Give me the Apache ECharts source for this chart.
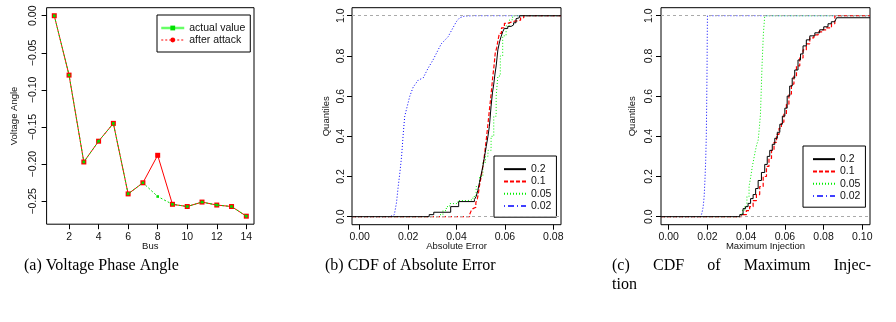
<!DOCTYPE html>
<html><head><meta charset="utf-8">
<script src="https://cdn.jsdelivr.net/npm/echarts@6.0.0/dist/echarts.min.js"></script>
<style>html,body{margin:0;padding:0;background:#fff}#c{width:896px;height:322px}</style>
</head><body><div id="c"></div>
<script>
// ---------- Panel (a): voltage phase angle ----------
const buses = [1,2,3,4,5,6,7,8,9,10,11,12,13,14];
const actualValue = [0.000,-0.080,-0.197,-0.169,-0.145,-0.240,-0.225,-0.2435,-0.254,-0.257,-0.251,-0.255,-0.257,-0.270];
const afterAttack = [0.000,-0.080,-0.197,-0.169,-0.145,-0.240,-0.225,-0.188,-0.254,-0.257,-0.251,-0.255,-0.257,-0.270];
const busTicks = [2,4,6,8,10,12,14];
const angleTicks = [0,-0.05,-0.10,-0.15,-0.20,-0.25];

// ---------- Panel (b): CDF of absolute error ----------
const quantileTicks = [0,0.2,0.4,0.6,0.8,1.0];
const absErrTicks = [0,0.02,0.04,0.06,0.08];
const errX_20 = [0.0287,0.0306,0.0376,0.0409,0.0474,0.0481,0.0488,0.0495,0.0502,0.0509,0.0516,0.0523,0.0530,0.0536,0.0543,0.0549,0.0554,0.0559,0.0564,0.0571,0.0578,0.0584,0.0591,0.0598,0.0612,0.0626,0.0636,0.0646,0.0653,0.0660];
const errQ_20 = [0.010,0.022,0.050,0.075,0.085,0.10,0.13,0.17,0.21,0.25,0.30,0.35,0.40,0.45,0.55,0.62,0.66,0.71,0.75,0.83,0.87,0.895,0.92,0.937,0.947,0.954,0.965,0.985,0.99,1.0];
const errX_10 = [0.0454,0.0461,0.0468,0.0474,0.0480,0.0486,0.0491,0.0495,0.0502,0.0509,0.0516,0.0523,0.0530,0.0536,0.0543,0.0550,0.0556,0.0560,0.0566,0.0572,0.0577,0.0586,0.0598,0.0612,0.0626,0.0640,0.0653,0.0665,0.0678];
const errQ_10 = [0.01,0.03,0.04,0.047,0.07,0.088,0.12,0.154,0.20,0.25,0.31,0.383,0.46,0.53,0.61,0.697,0.76,0.813,0.84,0.88,0.912,0.94,0.962,0.968,0.973,0.975,0.978,0.99,1.0];
const errX_05 = [0.0330,0.0344,0.0358,0.0372,0.0406,0.0447,0.0468,0.0481,0.0495,0.0509,0.0520,0.0530,0.0543,0.0554,0.0564,0.0571,0.0581,0.0591,0.0605,0.0619,0.0632];
const errQ_05 = [0.01,0.03,0.05,0.065,0.08,0.085,0.10,0.15,0.20,0.27,0.30,0.33,0.40,0.50,0.60,0.70,0.80,0.90,0.95,0.98,1.0];
const errX_02 = [0.0125,0.0143,0.0152,0.0159,0.0166,0.0173,0.0180,0.0186,0.0207,0.0221,0.0242,0.0262,0.0283,0.0303,0.0324,0.0337,0.0365,0.0399,0.0413,0.0433,0.0468];
const errQ_02 = [0.0,0.01,0.07,0.15,0.22,0.30,0.415,0.50,0.60,0.645,0.68,0.69,0.74,0.78,0.83,0.86,0.895,0.97,0.99,0.998,1.0];

// ---------- Panel (c): CDF of maximum injection ----------
const maxInjTicks = [0,0.02,0.04,0.06,0.08,0.10];
const injX_20 = [0.0367,0.0384,0.0397,0.0410,0.0423,0.0436,0.0449,0.0462,0.0479,0.0496,0.0509,0.0522,0.0535,0.0548,0.0561,0.0574,0.0587,0.0600,0.0612,0.0625,0.0638,0.0651,0.0668,0.0681,0.0694,0.0711,0.0729,0.0755,0.0780,0.0801,0.0823,0.0840,0.0858,0.0867];
const injQ_20 = [0.01,0.04,0.05,0.066,0.09,0.11,0.14,0.18,0.22,0.26,0.30,0.33,0.36,0.39,0.42,0.46,0.50,0.54,0.60,0.65,0.69,0.73,0.78,0.81,0.85,0.88,0.90,0.915,0.93,0.945,0.96,0.97,0.977,0.99];
const injX_10 = [0.0376,0.0401,0.0418,0.0436,0.0453,0.0470,0.0488,0.0505,0.0518,0.0531,0.0544,0.0557,0.0570,0.0582,0.0595,0.0608,0.0621,0.0634,0.0647,0.0660,0.0677,0.0694,0.0711,0.0729,0.0750,0.0772,0.0793,0.0815,0.0841,0.0858];
const injQ_10 = [0.01,0.03,0.05,0.08,0.11,0.15,0.20,0.25,0.29,0.33,0.37,0.41,0.44,0.47,0.51,0.56,0.61,0.66,0.70,0.75,0.79,0.83,0.86,0.89,0.905,0.92,0.93,0.94,0.96,1.0];
const injX_05 = [0.0367,0.0380,0.0393,0.0404,0.0415,0.0424,0.0432,0.0440,0.0448,0.0455,0.0462,0.0468,0.0474,0.0478,0.0482,0.0486,0.0489,0.0493,0.0496];
const injQ_05 = [0.01,0.03,0.05,0.10,0.15,0.20,0.25,0.29,0.33,0.36,0.38,0.44,0.51,0.63,0.75,0.84,0.91,0.96,1.0];
const injX_02 = [0.0165,0.0172,0.0178,0.0183,0.0187,0.0191,0.0194,0.0196,0.0198,0.0199,0.0200];
const injQ_02 = [0.0,0.02,0.05,0.10,0.18,0.28,0.40,0.55,0.75,0.90,1.0];

const GAP = '\u00a0\u00a0\u00a0\u00a0\u00a0\u2009';
const captions = ['(a) Voltage Phase Angle','(b) CDF of Absolute Error',
  '(c)'+GAP+'CDF'+GAP+'of'+GAP+'Maximum'+GAP+'Injec-\ntion'];

// ---------- helpers ----------
function rlim(lo, hi){ const d=(hi-lo)*0.04; return [lo-d, hi+d]; }
const xlimA = rlim(1,14), ylimA = rlim(-0.27,0);
const xlimB = rlim(0,0.08), xlimC = rlim(0,0.10), ylimQ = rlim(0,1);
const fmt = d => v => (v < -1e-12 ? '\u2212' : '') + Math.abs(v).toFixed(d);
const SANS = 'Liberation Sans';
const tickFont = {fontFamily:SANS, fontSize:10.5, color:'#111'};
const nameFont = {fontFamily:SANS, fontSize:9.5, color:'#111'};

function xAxis(gi, lim, ticks, dec, name){
  return {type:'value', gridIndex:gi, min:lim[0], max:lim[1], name:name, nameLocation:'middle', nameGap:17,
    nameMoveOverlap:false,
    nameTextStyle:nameFont, axisLine:{show:false, onZero:false}, splitLine:{show:false},
    axisTick:{show:true, inside:false, length:5, customValues:ticks, lineStyle:{color:'#000'}},
    axisLabel:{customValues:ticks, formatter:fmt(dec), margin:7, ...tickFont}};
}
function yAxis(gi, lim, ticks, dec, name, margin, gap){
  return {type:'value', gridIndex:gi, min:lim[0], max:lim[1], name:name, nameLocation:'middle', nameGap:gap,
    nameTextStyle:nameFont, axisLine:{show:false, onZero:false}, splitLine:{show:false},
    axisTick:{show:true, inside:false, length:5, customValues:ticks, lineStyle:{color:'#000'}},
    axisLabel:{customValues:ticks, formatter:fmt(dec), rotate:90, margin:margin, ...tickFont}};
}
const styles = {
  '0.2': {color:'#000000', width:1, type:'solid'},
  '0.1': {color:'#ff0000', width:1.2, type:[4,2]},
  '0.05':{color:'#00ee00', width:1, type:[1,2]},
  '0.02':{color:'#0000ff', width:1, type:[1,2]}
};
function cdfSeries(name, gi, xs, qs, lim, z){
  const data = [[lim[0],0]];
  xs.forEach((x,i)=>data.push([x,qs[i]]));
  data.push([lim[1], qs[qs.length-1]]);
  return {name:name, type:'line', xAxisIndex:gi, yAxisIndex:gi, data:data,
    step: name === '0.02' ? false : 'end', symbol:'none',
    lineStyle:styles[name], itemStyle:{color:styles[name].color}, z:z, silent:true, clip:true};
}
function refLines(gi){
  return {type:'line', xAxisIndex:gi, yAxisIndex:gi, data:[], silent:true, z:10,
    markLine:{silent:true, symbol:['none','none'], label:{show:false},
      lineStyle:{color:'#aaaaaa', type:[3,3], width:1}, data:[{yAxis:0},{yAxis:1}]}};
}
const noSym = {opacity:0};
function cdfLegend(left, top){
  return {left:left, top:top, orient:'vertical', borderColor:'#000', borderWidth:1, borderRadius:0,
    padding:[7,5,5,9], itemGap:0, itemWidth:22, itemHeight:8, selectedMode:false,
    textStyle:{fontFamily:SANS, fontSize:10.5, color:'#111', lineHeight:12.3},
    data:[{name:'0.2', itemStyle:noSym},{name:'0.1', itemStyle:noSym},{name:'0.05', itemStyle:noSym},
          {name:'0.02', itemStyle:noSym, lineStyle:{type:[1,3,6,3], width:1.5}}]};
}
const capStyle = {fontFamily:'Liberation Serif', fontSize:16, fontWeight:'normal', color:'#000', lineHeight:19};

const chart = echarts.init(document.getElementById('c'), null, {renderer:'canvas'});
chart.setOption({
  animation:false,
  backgroundColor:'#fff',
  title:[
    {text:captions[0], left:24, top:256, padding:0, textStyle:capStyle},
    {text:captions[1], left:325, top:256, padding:0, textStyle:capStyle},
    {text:captions[2], left:612, top:256, padding:0, textStyle:capStyle}
  ],
  grid:[
    {left:46.6, top:7.7, width:207.4, height:216.5, show:true, borderColor:'#000', borderWidth:1, backgroundColor:'transparent'},
    {left:352, top:7.7, width:209, height:217, show:true, borderColor:'#000', borderWidth:1, backgroundColor:'transparent'},
    {left:661, top:7.7, width:209, height:217, show:true, borderColor:'#000', borderWidth:1, backgroundColor:'transparent'}
  ],
  xAxis:[
    xAxis(0, xlimA, busTicks, 0, 'Bus'),
    xAxis(1, xlimB, absErrTicks, 2, 'Absolute Error'),
    xAxis(2, xlimC, maxInjTicks, 2, 'Maximum Injection')
  ],
  yAxis:[
    yAxis(0, ylimA, angleTicks, 2, 'Voltage Angle', 8, 27),
    yAxis(1, ylimQ, quantileTicks, 1, 'Quantiles', 5.5, 21),
    yAxis(2, ylimQ, quantileTicks, 1, 'Quantiles', 6, 24)
  ],
  legend:[
    {left:157, top:15, orient:'vertical', borderColor:'#000', borderWidth:1, borderRadius:0,
     padding:[7,5,6,3], itemGap:0, itemWidth:23, itemHeight:6, selectedMode:false,
     textStyle:{fontFamily:SANS, fontSize:10.5, color:'#111', lineHeight:12},
     data:[{name:'actual value', lineStyle:{type:'solid', width:2.5, color:'#66ff66'}},
           {name:'after attack', lineStyle:{type:[2,2], width:1}}]},
    cdfLegend(494, 156),
    cdfLegend(803, 146)
  ],
  series:[
    {name:'after attack', type:'line', xAxisIndex:0, yAxisIndex:0,
     data:buses.map((b,i)=>({value:[b,afterAttack[i]], symbol:'rect'})),
     symbol:'circle', symbolSize:5, itemStyle:{color:'#ff0000'},
     lineStyle:{color:'#ff0000', width:1}, z:2, silent:true},
    {name:'actual value', type:'line', xAxisIndex:0, yAxisIndex:0, data:buses.map((b,i)=>[b,actualValue[i]]),
     symbol:'rect', symbolSize:2.6, itemStyle:{color:'#00e000'},
     lineStyle:{color:'#00e000', width:1, type:[2,2]}, z:3, silent:true},
    cdfSeries('0.2', 1, errX_20, errQ_20, xlimB, 5),
    cdfSeries('0.1', 1, errX_10, errQ_10, xlimB, 4),
    cdfSeries('0.05',1, errX_05, errQ_05, xlimB, 3),
    cdfSeries('0.02',1, errX_02, errQ_02, xlimB, 2),
    refLines(1),
    cdfSeries('0.2', 2, injX_20, injQ_20, xlimC, 5),
    cdfSeries('0.1', 2, injX_10, injQ_10, xlimC, 4),
    cdfSeries('0.05',2, injX_05, injQ_05, xlimC, 3),
    cdfSeries('0.02',2, injX_02, injQ_02, xlimC, 2),
    refLines(2)
  ]
});
</script></body></html>
